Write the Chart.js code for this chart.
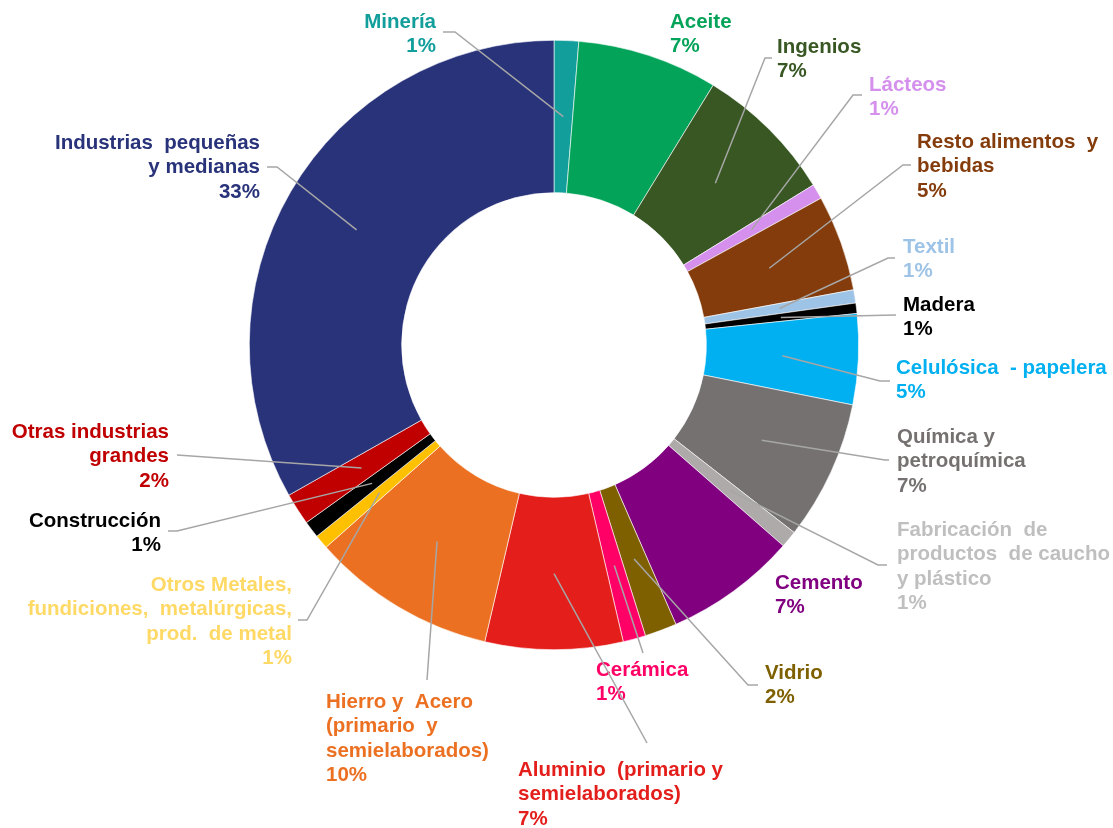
<!DOCTYPE html>
<html lang="es">
<head>
<meta charset="utf-8">
<title>Consumo industrial por rama</title>
<script src="https://cdn.jsdelivr.net/npm/chart.js@4/dist/chart.umd.min.js"></script>
<style>
  html, body { margin: 0; padding: 0; background: #fff; }
  #wrap { width: 1113px; height: 828px; }
</style>
</head>
<body>
<div id="wrap"><canvas id="ramas" width="1113" height="828"></canvas></div>
<script>
// rama industrial (one line of text per entry) and share of the total
const categories = [
  ['Minería'],
  ['Aceite'],
  ['Ingenios'],
  ['Lácteos'],
  ['Resto alimentos  y', 'bebidas'],
  ['Textil'],
  ['Madera'],
  ['Celulósica  - papelera'],
  ['Química y', 'petroquímica'],
  ['Fabricación  de', 'productos  de caucho', 'y plástico'],
  ['Cemento'],
  ['Vidrio'],
  ['Cerámica'],
  ['Aluminio  (primario y', 'semielaborados)'],
  ['Hierro y  Acero', '(primario  y', 'semielaborados)'],
  ['Otros Metales,', 'fundiciones,  metalúrgicas,', 'prod.  de metal'],
  ['Construcción'],
  ['Otras industrias', 'grandes'],
  ['Industrias  pequeñas', 'y medianas']
];
const shares = [1.3, 7.45, 7.45, 0.8, 5.1, 0.7, 0.55, 4.8, 7.4, 0.9, 7.0, 1.7, 1.2, 7.3, 9.8, 0.75, 0.9, 1.7, 33.2];

const sliceColors = ['#129E9B', '#03A35A', '#385723', '#D490EC', '#843C0C', '#9DC3E6', '#000000', '#00B0F0',
  '#767171', '#AEAAAA', '#800080', '#7F6000', '#FF0066', '#E31E1B', '#EC7021', '#FFC000', '#000000', '#C00000', '#29337A'];
const textColors = ['#129E9B', '#03A35A', '#385723', '#D490EC', '#843C0C', '#9DC3E6', '#000000', '#00B0F0',
  '#767171', '#BFBFBF', '#800080', '#7F6000', '#FF0066', '#E31E1B', '#EC7021', '#FFD966', '#000000', '#C00000', '#29337A'];

// where each label sits: x, y of first line, alignment, and the leader bend [x, y, stubEnd]
const labelSpots = [
  { x: 436, y: 22, align: 'right', bend: [455, 32, 443] },
  { x: 670, y: 22, align: 'left', bend: null },
  { x: 777, y: 47, align: 'left', bend: [765, 58, 772] },
  { x: 869, y: 85, align: 'left', bend: [853, 95, 862] },
  { x: 917, y: 142, align: 'left', bend: [903, 165, 911] },
  { x: 903, y: 247, align: 'left', bend: [888, 258, 895] },
  { x: 903, y: 305, align: 'left', bend: [896, 315, 896] },
  { x: 896, y: 368, align: 'left', bend: [880, 381, 890] },
  { x: 897, y: 437, align: 'left', bend: [885, 460, 889] },
  { x: 897, y: 530, align: 'left', bend: [878, 565, 887] },
  { x: 775, y: 583, align: 'left', bend: null },
  { x: 765, y: 673, align: 'left', bend: [748, 685, 758] },
  { x: 596, y: 670, align: 'left', bend: [643, 653, 643] },
  { x: 518, y: 770, align: 'left', bend: [647, 743, 647] },
  { x: 326, y: 702, align: 'left', bend: [427, 680, 427] },
  { x: 292, y: 585, align: 'right', bend: [307, 620, 298] },
  { x: 161, y: 521, align: 'right', bend: [177, 531, 168] },
  { x: 169, y: 432, align: 'right', bend: [177, 455, 177] },
  { x: 260, y: 143, align: 'right', bend: [277, 167, 267] }
];

const total = shares.reduce((a, b) => a + b, 0);

const leaderLabels = {
  id: 'leaderLabels',
  afterDatasetsDraw(chart) {
    const ctx = chart.ctx;
    const arcs = chart.getDatasetMeta(0).data;
    ctx.save();
    ctx.font = 'bold 20.5px "Liberation Sans", Arial, sans-serif';
    ctx.textBaseline = 'middle';
    arcs.forEach((arc, i) => {
      const p = arc.getProps(['x', 'y', 'startAngle', 'endAngle', 'innerRadius', 'outerRadius'], true);
      const spot = labelSpots[i];
      if (spot.bend) {
        const mid = (p.startAngle + p.endAngle) / 2;
        const r = (p.innerRadius + p.outerRadius) / 2;
        const sx = p.x + Math.cos(mid) * r;
        const sy = p.y + Math.sin(mid) * r;
        ctx.strokeStyle = '#A6A6A6';
        ctx.lineWidth = 1.5;
        ctx.beginPath();
        ctx.moveTo(sx, sy);
        ctx.lineTo(spot.bend[0], spot.bend[1]);
        ctx.lineTo(spot.bend[2], spot.bend[1]);
        ctx.stroke();
      }
      const lines = categories[i].concat([Math.round(shares[i] / total * 100) + '%']);
      ctx.fillStyle = textColors[i];
      ctx.textAlign = spot.align;
      lines.forEach((t, k) => ctx.fillText(t, spot.x, spot.y + k * 24.5));
    });
    ctx.restore();
  }
};

new Chart(document.getElementById('ramas'), {
  type: 'doughnut',
  data: {
    labels: categories,
    datasets: [{
      data: shares,
      backgroundColor: sliceColors,
      borderColor: '#ffffff',
      borderWidth: 0.6
    }]
  },
  options: {
    responsive: false,
    animation: false,
    devicePixelRatio: 1,
    cutout: '50%',
    layout: { padding: { top: 40, bottom: 178, left: 249, right: 254 } },
    plugins: {
      legend: { display: false },
      tooltip: { enabled: false }
    }
  },
  plugins: [leaderLabels]
});
</script>
</body>
</html>
